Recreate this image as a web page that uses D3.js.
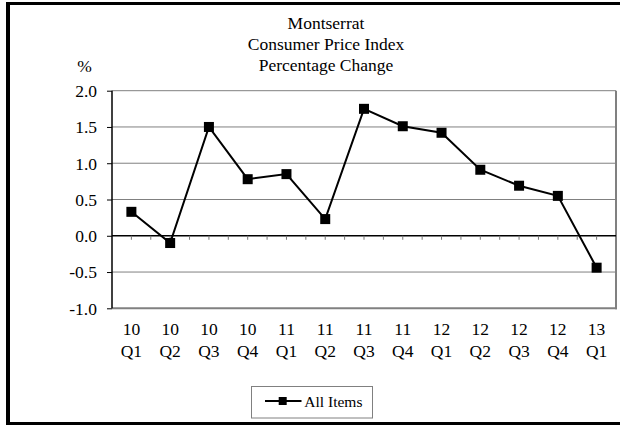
<!DOCTYPE html>
<html>
<head>
<meta charset="utf-8">
<script src="https://cdn.jsdelivr.net/npm/d3@7"></script>
<style>
  html, body { margin: 0; padding: 0; background: #fff; }
  svg { display: block; }
  text { font-family: "Liberation Serif", "Times New Roman", serif; fill: #000; }
</style>
</head>
<body>
<svg id="chart" width="620" height="425"></svg>
<script>
const years = ["10","10","10","10","11","11","11","11","12","12","12","12","13"];
const quarters = ["Q1","Q2","Q3","Q4","Q1","Q2","Q3","Q4","Q1","Q2","Q3","Q4","Q1"];
const values = [0.33, -0.10, 1.50, 0.78, 0.85, 0.23, 1.75, 1.51, 1.42, 0.91, 0.69, 0.55, -0.44];
const yTicks = [-1.0, -0.5, 0.0, 0.5, 1.0, 1.5, 2.0];
const titleLines = ["Montserrat", "Consumer Price Index", "Percentage Change"];
const seriesName = "All Items";

const svg = d3.select("#chart");
const W = 620, H = 425;
const plot = { left: 112, right: 616, top: 90.7, bottom: 308.3 };

// outer frame
svg.append("rect").attr("x", 0).attr("y", 0).attr("width", W).attr("height", H).attr("fill", "#fff");
svg.append("line").attr("x1", 8).attr("x2", 8).attr("y1", 2).attr("y2", 425).attr("stroke", "#000").attr("stroke-width", 4);
svg.append("line").attr("x1", 6).attr("x2", 620).attr("y1", 3.5).attr("y2", 3.5).attr("stroke", "#000").attr("stroke-width", 3);
svg.append("line").attr("x1", 6).attr("x2", 620).attr("y1", 423.5).attr("y2", 423.5).attr("stroke", "#000").attr("stroke-width", 3);

const idx = values.map((d, i) => i);
const x = d3.scaleBand().domain(idx).range([plot.left, plot.right]).padding(0);
const y = d3.scaleLinear().domain([-1, 2]).range([plot.bottom, plot.top]);
const cx = i => x(i) + x.bandwidth() / 2;

// gridlines
svg.append("g").selectAll("line").data(yTicks.filter(t => t !== 0 && t !== -1 && t !== 2)).join("line")
  .attr("x1", plot.left).attr("x2", plot.right)
  .attr("y1", d => y(d)).attr("y2", d => y(d))
  .attr("stroke", "#808080").attr("stroke-width", 1);

// plot border (top, right, bottom)
svg.append("line").attr("x1", plot.left).attr("x2", plot.right).attr("y1", y(2)).attr("y2", y(2)).attr("stroke", "#808080").attr("stroke-width", 1);
svg.append("line").attr("x1", plot.right).attr("x2", plot.right).attr("y1", y(2)).attr("y2", y(-1) + 1).attr("stroke", "#808080").attr("stroke-width", 2);
svg.append("line").attr("x1", plot.left).attr("x2", plot.right + 1).attr("y1", y(-1)).attr("y2", y(-1)).attr("stroke", "#808080").attr("stroke-width", 2);

// y axis
const fmt = d => d3.format(".1f")(d).replace("\u2212", "-");
const yAxis = d3.axisLeft(y).tickValues(yTicks).tickFormat(fmt).tickSize(5).tickPadding(10);
const ya = svg.append("g").attr("transform", `translate(${plot.left},0)`).call(yAxis);
ya.select(".domain").attr("stroke", "#000").attr("stroke-width", 1.5).attr("d", `M0,${y(2)}V${y(-1)}`);
ya.selectAll(".tick line").attr("stroke", "#000");
ya.selectAll(".tick text").attr("font-size", "17.5px").attr("font-family", "Liberation Serif").attr("fill", "#000").attr("dy", "0.34em");

// zero axis with half-category ticks
const halfTicks = d3.range(0, values.length * 2 + 1).map(k => plot.left + k * x.bandwidth() / 2);
svg.append("line").attr("x1", plot.left).attr("x2", plot.right).attr("y1", y(0)).attr("y2", y(0)).attr("stroke", "#000").attr("stroke-width", 1.5);
svg.append("g").selectAll("line").data(halfTicks.slice(1, -1)).join("line")
  .attr("x1", d => d).attr("x2", d => d)
  .attr("y1", y(0)).attr("y2", y(0) + 4)
  .attr("stroke", "#777").attr("stroke-width", 1);

// category labels
const cat = svg.append("g");
cat.selectAll("text.yr").data(idx).join("text").attr("class", "yr")
  .attr("x", cx).attr("y", 335).attr("text-anchor", "middle").attr("font-size", "17.5px")
  .text(i => years[i]);
cat.selectAll("text.q").data(idx).join("text").attr("class", "q")
  .attr("x", cx).attr("y", 356.5).attr("text-anchor", "middle").attr("font-size", "17.5px")
  .text(i => quarters[i]);

// line
const line = d3.line().x((d, i) => cx(i)).y(d => y(d));
svg.append("path").datum(values).attr("d", line).attr("fill", "none").attr("stroke", "#000").attr("stroke-width", 2);
const ms = 10;
svg.append("g").selectAll("rect").data(values).join("rect")
  .attr("x", (d, i) => cx(i) - ms / 2).attr("y", d => y(d) - ms / 2)
  .attr("width", ms).attr("height", ms).attr("fill", "#000");

// title
svg.append("g").selectAll("text").data(titleLines).join("text")
  .attr("x", 326).attr("y", (d, i) => 29 + i * 21)
  .attr("text-anchor", "middle").attr("font-size", "17.5px").text(d => d);

// % label
svg.append("text").attr("x", 84.5).attr("y", 71.5).attr("text-anchor", "middle").attr("font-size", "17.5px").text("%");

// legend
const lg = svg.append("g");
lg.append("rect").attr("x", 251.5).attr("y", 386.5).attr("width", 121).attr("height", 31.5)
  .attr("fill", "#fff").attr("stroke", "#808080").attr("stroke-width", 1);
lg.append("line").attr("x1", 265).attr("x2", 301.5).attr("y1", 401).attr("y2", 401).attr("stroke", "#000").attr("stroke-width", 2);
lg.append("rect").attr("x", 282.7 - 4).attr("y", 401 - 4).attr("width", 8).attr("height", 8).attr("fill", "#000");
lg.append("text").attr("x", 304.3).attr("y", 406.7).attr("font-size", "15.5px").text(seriesName);
</script>
</body>
</html>
